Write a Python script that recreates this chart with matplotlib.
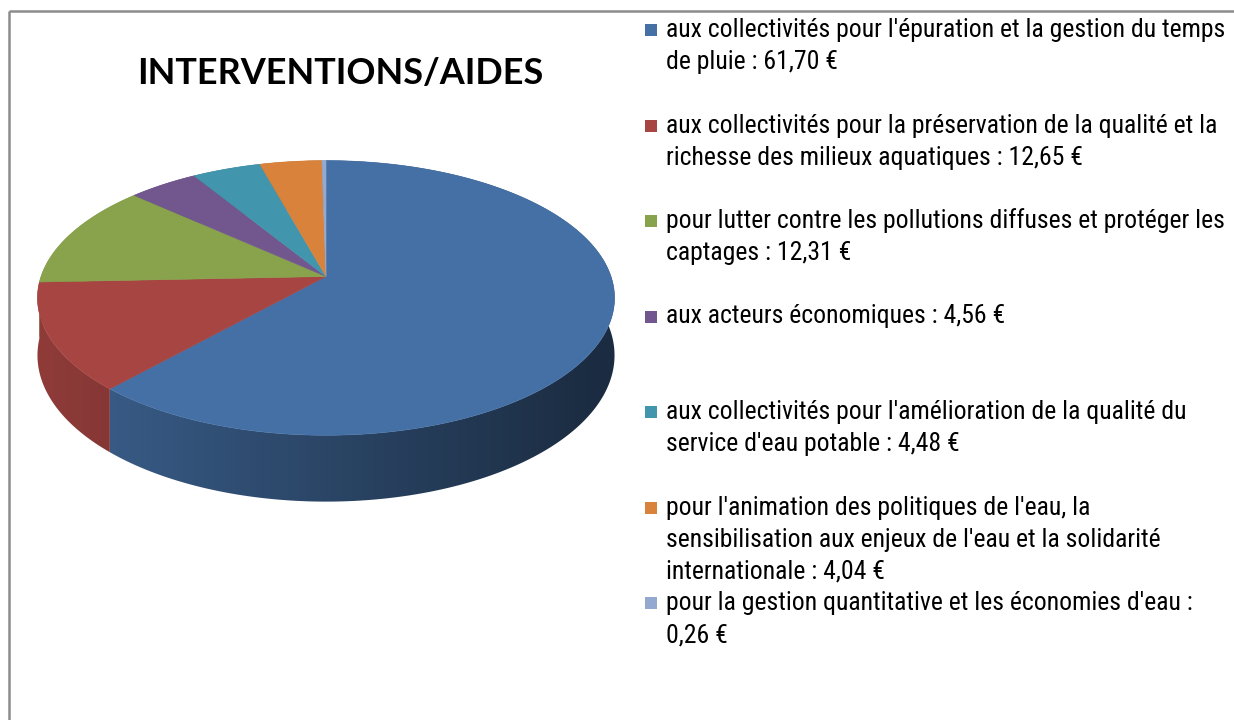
import matplotlib
matplotlib.use('Agg')
import numpy as np
import matplotlib.pyplot as plt
from matplotlib import font_manager as fm
from matplotlib.patches import Polygon

# ---------------- data ----------------
labels = [
    "aux collectivités pour l'épuration et la gestion du temps\nde pluie : 61,70 €",
    "aux collectivités pour la préservation de la qualité et la\nrichesse des milieux aquatiques : 12,65 €",
    "pour lutter contre les pollutions diffuses et protéger les\ncaptages : 12,31 €",
    "aux acteurs économiques : 4,56 €",
    "aux collectivités pour l'amélioration de la qualité du\nservice d'eau potable : 4,48 €",
    "pour l'animation des politiques de l'eau, la\nsensibilisation aux enjeux de l'eau et la solidarité\ninternationale : 4,04 €",
    "pour la gestion quantitative et les économies d'eau :\n0,26 €",
]
values = [61.70, 12.65, 12.31, 4.56, 4.48, 4.04, 0.26]
colors = ["#4570A5", "#A64542", "#88A34C", "#71578E", "#4195AD", "#D8823B", "#93A9D0"]
title = "INTERVENTIONS/AIDES"


def pick(fams):
    for f in fams:
        try:
            fm.findfont(fm.FontProperties(family=f), fallback_to_default=False)
            return f
        except Exception:
            pass
    return "DejaVu Sans"


legend_font = pick(["Liberation Sans Narrow", "Roboto Condensed", "Liberation Sans"])
title_font = pick(["Lato", "Open Sans", "DejaVu Sans"])

W, H = 1234, 720
fig = plt.figure(figsize=(W / 100, H / 100), dpi=100)
ax = fig.add_axes([0, 0, 1, 1])
ax.axis("off")

# frame lines
ax.plot([8.5, 8.5], [10.5, H], color="#8C8C8C", lw=1.8, solid_capstyle="butt")
ax.plot([8.5, W], [10.5, 10.5], color="#8C8C8C", lw=1.8, solid_capstyle="butt")

# ---------------- 3D pie (perspective projection) ----------------
cx, cy = 326.0, 276.5
R, B, p, h0 = 285.0, 134.0, 0.156, 56.0


def proj(theta_deg, drop=0.0):
    t = np.radians(theta_deg)
    x = np.sin(t)
    z = -np.cos(t)
    s = 1.0 / (1.0 - p * z)
    return cx + R * x * s, cy + B * z * s + drop * h0 * s


def shade_x(X):
    u = np.clip((X - cx) / R, -1.0, 1.0)
    return np.clip(0.62 - 0.24 * u, 0.40, 0.9)


vals = np.array(values)
bounds = np.concatenate([[0], np.cumsum(vals) / vals.sum() * 360.0])

xmin, xmax = cx - R * 1.05, cx + R * 1.05
ymin, ymax = cy - B, cy + B * 1.3 + h0 * 1.3
cols_x = np.linspace(xmin, xmax, 600)

# side walls drawn back to front (horizontal gradient clipped to each wall)
mids = 0.5 * (bounds[:-1] + bounds[1:])
order = np.argsort(-np.cos(np.radians(mids)))
for rank, i in enumerate(order):
    a0, a1 = bounds[i], bounds[i + 1]
    th = np.linspace(a0, a1, max(3, int((a1 - a0) / 0.5)))
    xt, yt = proj(th)
    xb, yb = proj(th[::-1], 1)
    poly = Polygon(np.column_stack([np.concatenate([xt, xb]), np.concatenate([yt, yb])]),
                   closed=True, facecolor="none", edgecolor="none", transform=ax.transData)
    ax.add_patch(poly)
    base = np.array(matplotlib.colors.to_rgb(colors[i]))
    img = (base[None, :] * shade_x(cols_x)[:, None])[None, :, :]
    im = ax.imshow(img, extent=[xmin, xmax, ymax, ymin], aspect="auto",
                   interpolation="bilinear", zorder=1 + rank * 0.01)
    im.set_clip_path(poly)

# top faces
for i in range(len(vals)):
    a0, a1 = bounds[i], bounds[i + 1]
    th = np.linspace(a0, a1, max(3, int((a1 - a0) / 0.5)))
    xs, ys = proj(th)
    px = np.concatenate([[cx], xs])
    py = np.concatenate([[cy], ys])
    ax.fill(px, py, facecolor=colors[i], edgecolor=colors[i], lw=0.4, zorder=2)

ax.set_xlim(0, W)
ax.set_ylim(H, 0)

# ---------------- title ----------------
fig.canvas.draw()
r = fig.canvas.get_renderer()
tt = ax.text(0, 0, title, fontsize=10, fontweight="bold", family=title_font)
wb = tt.get_window_extent(r).width
tt.remove()
title_size = 10 * 407.0 / wb
ax.text(340.5, 73, title, fontsize=title_size, fontweight="bold", family=title_font,
        ha="center", va="center", color="black", zorder=3)

# ---------------- legend ----------------
first = labels[0].split("\n")[0]
tl = ax.text(0, 0, first, fontsize=10, family=legend_font)
wl = tl.get_window_extent(r).width
tl.remove()
leg_size = 10 * 556.0 / wl
line_px = 32.0

for i, lab in enumerate(labels):
    y0 = 30 + 95.5 * i
    ax.add_patch(plt.Rectangle((645, y0 - 6), 12, 12, facecolor=colors[i], edgecolor="none"))
    for j, ln in enumerate(lab.split("\n")):
        ax.text(666, y0 + j * line_px, ln, fontsize=leg_size, family=legend_font,
                ha="left", va="center", color="black", zorder=3)

ax.set_xlim(0, W)
ax.set_ylim(H, 0)
fig.savefig("out.png", dpi=100)
